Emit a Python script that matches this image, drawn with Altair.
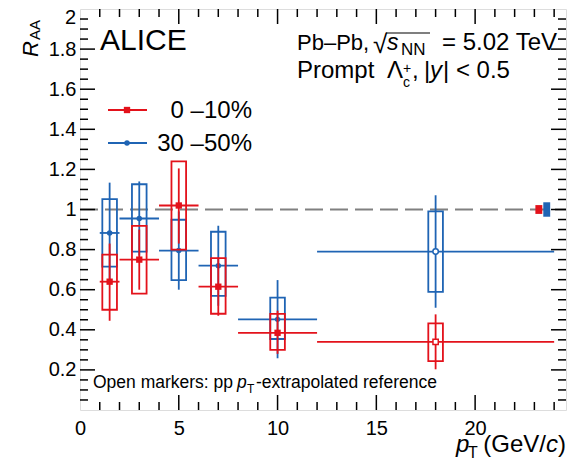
import altair as alt
import pandas as pd

FONT = "Liberation Sans"
RED = "#e3121b"
BLUE = "#1f64b4"

# ---------------- data ----------------
pt_center = [1.5, 3, 5, 7, 10, 18]
pt_low = [1, 2, 4, 6, 8, 12]
pt_high = [2, 4, 6, 8, 12, 24]
open_marker = [0, 0, 0, 0, 0, 1]

# 0-10%
raa_010 = [0.64, 0.75, 1.02, 0.615, 0.385, 0.34]
stat_lo_010 = [0.445, 0.60, 0.83, 0.47, 0.28, 0.203]
stat_hi_010 = [0.83, 0.90, 1.205, 0.76, 0.495, 0.477]
sys_lo_010 = [0.50, 0.58, 0.80, 0.48, 0.30, 0.244]
sys_hi_010 = [0.775, 0.918, 1.24, 0.757, 0.479, 0.432]

# 30-50%
raa_3050 = [0.883, 0.955, 0.795, 0.72, 0.452, 0.79]
stat_lo_3050 = [0.63, 0.77, 0.60, 0.52, 0.258, 0.51]
stat_hi_3050 = [1.134, 1.14, 0.99, 0.919, 0.648, 1.071]
sys_lo_3050 = [0.715, 0.79, 0.648, 0.569, 0.354, 0.589]
sys_hi_3050 = [1.052, 1.126, 0.949, 0.889, 0.56, 0.991]

# normalisation uncertainties (boxes at R_AA = 1)
norm_unc = [0.022, 0.036]
norm_x_lo = [23.05, 23.45]
norm_x_hi = [23.40, 23.80]
norm_color = [RED, BLUE]

y_labels = [0.2, 0.4, 0.6, 0.8, 1.0, 1.2, 1.4, 1.6, 1.8]
x_labels = [0, 5, 10, 15, 20]

# ---------------- layout ----------------
W, H = 486, 401
BOX_HW = 0.37

xs = alt.Scale(domain=[0, 24.6], nice=False, zero=False)
ys = alt.Scale(domain=[0, 2], nice=False, zero=False)
x_axis = alt.Axis(values=x_labels, title=None, ticks=False, domain=False, grid=False,
                  labelFontSize=20, labelFont=FONT, labelColor="black", labelPadding=8,
                  format="~g", labelFlush=False, labelOverlap=False)
y_axis = alt.Axis(values=y_labels, title=None, ticks=False, domain=False, grid=False,
                  labelFontSize=20, labelFont=FONT, labelColor="black", labelPadding=4,
                  format="~g", labelOverlap=False)


def X(f):
    return alt.X(f, type="quantitative", scale=xs, axis=x_axis)


def Y(f):
    return alt.Y(f, type="quantitative", scale=ys, axis=y_axis)


def series_df(vals, slo, shi, ylo, yhi):
    return pd.DataFrame({"pt": pt_center, "lo": pt_low, "hi": pt_high, "val": vals,
                         "stat_lo": slo, "stat_hi": shi, "sys_lo": ylo, "sys_hi": yhi,
                         "open": open_marker})


def series_layers(df, color, shape, size, osize):
    base = alt.Chart(df)
    boxes = base.transform_calculate(bx0=f"datum.pt - {BOX_HW}", bx1=f"datum.pt + {BOX_HW}").mark_rect(
        fillOpacity=0, stroke=color, strokeWidth=1.8).encode(x=X("bx0"), x2="bx1", y=Y("sys_lo"), y2="sys_hi")
    hbar = base.mark_rule(color=color, strokeWidth=1.8).encode(x=X("lo"), x2="hi", y=Y("val"))
    vbar = base.mark_rule(color=color, strokeWidth=1.8).encode(x=X("pt"), y=Y("stat_lo"), y2="stat_hi")
    filled = base.transform_filter("datum.open == 0").mark_point(
        shape=shape, filled=True, size=size, color=color, opacity=1).encode(x=X("pt"), y=Y("val"))
    hollow = base.transform_filter("datum.open == 1").mark_point(
        shape=shape, filled=True, size=osize, fill="white", stroke=color, strokeWidth=1.5, opacity=1
    ).encode(x=X("pt"), y=Y("val"))
    return [boxes, hbar, vbar, filled, hollow]


def txt(s, x, y, size, style=None, align="left", baseline="alphabetic", angle=None):
    kw = dict(text=s, fontSize=size, font=FONT, align=align, baseline=baseline, color="black")
    if style:
        kw["fontStyle"] = style
    if angle is not None:
        kw["angle"] = angle
    return alt.Chart(pd.DataFrame({"k": [0]})).mark_text(**kw).encode(x=alt.value(x), y=alt.value(y))


def prule(x0, x1, y0, y1, color="black", width=1.5):
    return alt.Chart(pd.DataFrame({"k": [0]})).mark_rule(color=color, strokeWidth=width).encode(
        x=alt.value(x0), x2=alt.value(x1), y=alt.value(y0), y2=alt.value(y1))


layers = []

# dashed line at 1
layers.append(alt.Chart(pd.DataFrame({"v": [1.0]})).mark_rule(
    color="#808080", strokeWidth=1.8, strokeDash=[18, 7]).encode(
    y=Y("v"), x=alt.value(0), x2=alt.value(W)))

df_3050 = series_df(raa_3050, stat_lo_3050, stat_hi_3050, sys_lo_3050, sys_hi_3050)
df_010 = series_df(raa_010, stat_lo_010, stat_hi_010, sys_lo_010, sys_hi_010)
layers += series_layers(df_3050, BLUE, "circle", 30, 30)
layers += series_layers(df_010, RED, "square", 40, 28)

# normalisation boxes
norm_df = pd.DataFrame({"lo": norm_x_lo, "hi": norm_x_hi, "unc": norm_unc, "c": norm_color})
layers.append(alt.Chart(norm_df).transform_calculate(
    y0="1 - datum.unc", y1="1 + datum.unc").mark_rect().encode(
    x=X("lo"), x2="hi", y=Y("y0"), y2="y1", color=alt.Color("c:N", scale=None)))

# inside ticks (ROOT style)
y_major = [0.2, 0.4, 0.6, 0.8, 1.0, 1.2, 1.4, 1.6, 1.8]
y_minor = [round(i * 0.05, 2) for i in range(1, 40) if i % 4]
x_major = [5, 10, 15, 20]
x_minor = [i for i in range(1, 25) if i % 5]
for vals, ln in ((y_major, 15), (y_minor, 8)):
    d = pd.DataFrame({"v": vals})
    layers.append(alt.Chart(d).mark_rule(color="black", strokeWidth=1.5).encode(
        y=Y("v"), x=alt.value(0), x2=alt.value(ln)))
    layers.append(alt.Chart(d).mark_rule(color="black", strokeWidth=1.5).encode(
        y=Y("v"), x=alt.value(W - ln), x2=alt.value(W)))
for vals, ln in ((x_major, 15), (x_minor, 8)):
    d = pd.DataFrame({"v": vals})
    layers.append(alt.Chart(d).mark_rule(color="black", strokeWidth=1.5).encode(
        x=X("v"), y=alt.value(H), y2=alt.value(H - ln)))
    layers.append(alt.Chart(d).mark_rule(color="black", strokeWidth=1.5).encode(
        x=X("v"), y=alt.value(0), y2=alt.value(ln)))

# top y label "2" (kept inside the page)
layers.append(txt("2", -4, 9, 20, align="right", baseline="middle"))

# ---------------- annotations ----------------
layers.append(txt("ALICE", 20, 41, 30))
# Pb-Pb, sqrt(s_NN) = 5.02 TeV
layers.append(txt("Pb–Pb,", 217, 41, 22))
layers.append(txt("√", 293, 44, 26))
layers.append(prule(306, 350, 24, 24, width=1.2))
layers.append(txt("s", 307, 41, 23, style="italic"))
layers.append(txt("NN", 321, 46, 17))
layers.append(txt("= 5.02 TeV", 477, 41, 24, align="right"))
# Prompt Lambda_c^+, |y| < 0.5
layers.append(txt("Prompt", 217, 69, 24))
layers.append(txt("Λ", 307, 69, 24))
layers.append(txt("+", 323, 64, 14))
layers.append(txt("c", 323, 78, 14))
layers.append(txt(",", 332, 69, 24))
layers.append(txt("|", 344, 69, 24))
layers.append(txt("y", 350, 69, 24, style="italic"))
layers.append(txt("| < 0.5", 363, 69, 24))

# legend
layers.append(prule(28, 67, 101, 101, color=RED, width=2))
layers.append(prule(28, 67, 134, 134, color=BLUE, width=2))
layers.append(alt.Chart(pd.DataFrame({"k": [0]})).mark_point(
    shape="square", filled=True, size=40, color=RED, opacity=1).encode(x=alt.value(47), y=alt.value(101)))
layers.append(alt.Chart(pd.DataFrame({"k": [0]})).mark_point(
    shape="circle", filled=True, size=30, color=BLUE, opacity=1).encode(x=alt.value(47), y=alt.value(134)))
layers.append(txt("0 –10%", 172, 102, 24, align="right", baseline="middle"))
layers.append(txt("30 –50%", 172, 135, 24, align="right", baseline="middle"))

# y title R_AA
layers.append(txt("R", -42, 48, 22, style="italic", angle=270))
layers.append(txt("AA", -40, 31, 15, angle=270))

# x title p_T (GeV/c)
layers.append(txt("p", 376, 443, 24, style="italic"))
layers.append(txt("T", 388, 449, 16))
layers.append(txt("(GeV/", 466, 443, 24, align="right"))
layers.append(txt("c", 478, 443, 24, style="italic", align="right"))
layers.append(txt(")", 486, 443, 24, align="right"))

# note
layers.append(txt("Open markers: pp", 13, 379, 17.5))
layers.append(txt("p", 157, 379, 17.5, style="italic"))
layers.append(txt("T", 167, 384, 12))
layers.append(txt("-extrapolated reference", 176, 379, 17.5))

chart = alt.layer(*layers).properties(
    width=W, height=H, autosize="none",
    padding={"left": 72, "top": 1, "right": 1, "bottom": 50},
).configure_view(stroke="black", strokeWidth=2).configure(background="white")

chart.save("out.html", embed_options={"renderer": "svg", "actions": False})
